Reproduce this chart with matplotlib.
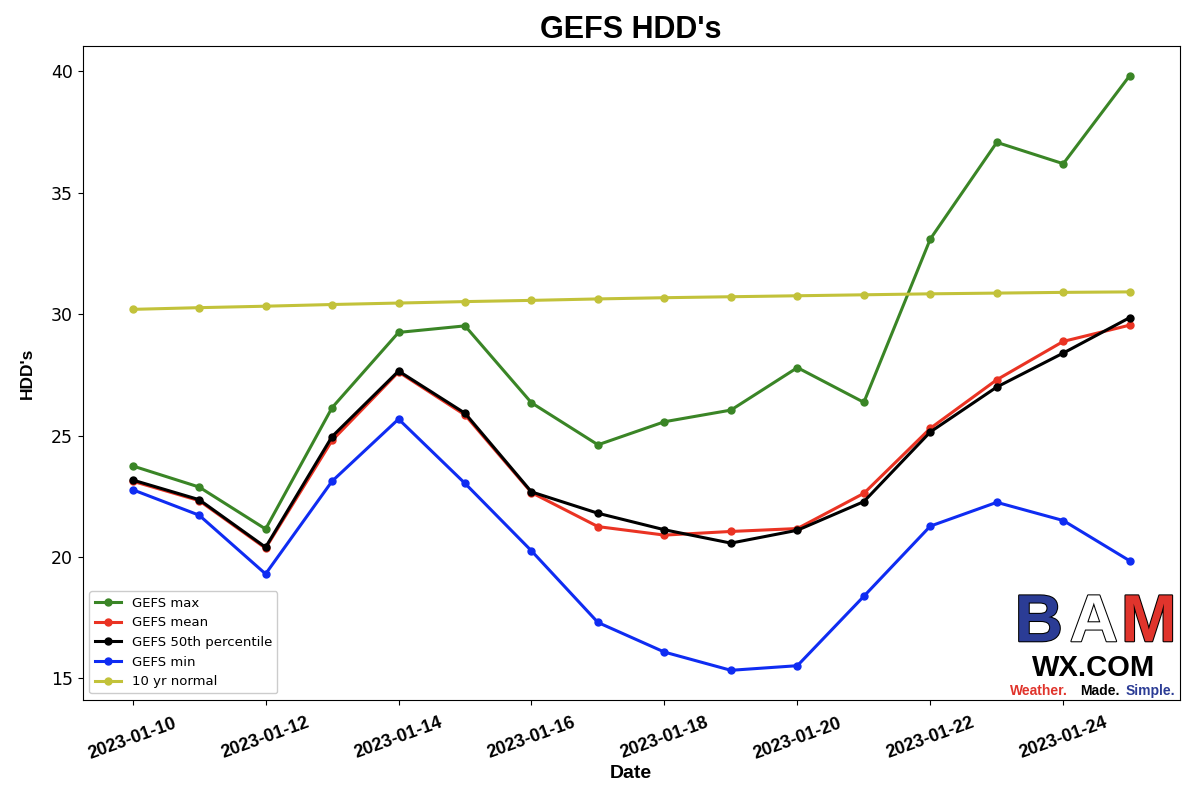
#!/usr/bin/env python3
"""
GEFS HDD's chart
"""

import numpy as np
import pandas as pd
import matplotlib
matplotlib.use("Agg")
import matplotlib.pyplot as plt
import matplotlib.dates as mdates
import matplotlib.patheffects as pe

dates = pd.to_datetime([
    "2023-01-10", "2023-01-11", "2023-01-12", "2023-01-13",
    "2023-01-14", "2023-01-15", "2023-01-16", "2023-01-17",
    "2023-01-18", "2023-01-19", "2023-01-20", "2023-01-21",
    "2023-01-22", "2023-01-23", "2023-01-24", "2023-01-25",
])

gefs_max = [23.75, 22.88, 21.15, 26.15, 29.25, 29.52, 26.35, 24.62,
            25.57, 26.05, 27.8, 26.37, 33.1, 37.08, 36.2, 39.83]
gefs_mean = [23.12, 22.32, 20.36, 24.8, 27.62, 25.85, 22.65, 21.25,
             20.9, 21.05, 21.17, 22.62, 25.3, 27.3, 28.88, 29.55]
gefs_p50 = [23.17, 22.36, 20.4, 24.96, 27.66, 25.92, 22.68, 21.8,
            21.12, 20.57, 21.1, 22.28, 25.15, 27.0, 28.4, 29.86]
gefs_min = [22.77, 21.72, 19.3, 23.12, 25.68, 23.03, 20.25, 17.3,
            16.08, 15.33, 15.52, 18.38, 21.27, 22.25, 21.5, 19.84]
normal_10yr = [30.2, 30.27, 30.33, 30.4, 30.46, 30.52, 30.57, 30.63,
               30.68, 30.72, 30.76, 30.8, 30.84, 30.87, 30.9, 30.92]

series = [
    ("GEFS max", gefs_max, "#3a8526"),
    ("GEFS mean", gefs_mean, "#ea3323"),
    ("GEFS 50th percentile", gefs_p50, "black"),
    ("GEFS min", gefs_min, "#0f2cf2"),
    ("10 yr normal", normal_10yr, "#c2c23a"),
]

BOLD = "Liberation Sans"


def main():
    fig = plt.figure(figsize=(12, 7.91), dpi=100)
    ax = fig.add_axes([0.069, 0.115, 0.914, 0.827])

    for label, vals, color in series:
        ax.plot(dates, vals, color=color, linewidth=2.2, marker="o",
                markersize=5, label=label)

    ax.set_xticks(dates[::2])
    ax.xaxis.set_major_formatter(mdates.DateFormatter("%Y-%m-%d"))
    ax.tick_params(axis="x", pad=7)
    for lbl in ax.get_xticklabels():
        lbl.set_rotation(20)
        lbl.set_fontfamily(BOLD)
        lbl.set_fontweight("bold")
        lbl.set_fontsize(13)
    ax.tick_params(axis="y", labelsize=12.5)

    ax.set_title("GEFS HDD's", fontfamily=BOLD, fontweight="bold",
                 fontsize=22, pad=6)
    ax.set_xlabel("Date", fontfamily=BOLD, fontweight="bold", fontsize=14,
                  labelpad=2)
    ax.set_ylabel("HDD's", fontfamily=BOLD, fontweight="bold", fontsize=12.5,
                  labelpad=12)

    ax.legend(loc="lower left", fontsize=9.5, framealpha=1)

    # logo box (approximation of the BAM WX.COM badge)
    lax = fig.add_axes([0.842, 0.118, 0.139, 0.145])
    lax.set_xlim(0, 1)
    lax.set_ylim(0, 1)
    lax.axis("off")
    lax.add_patch(plt.Rectangle((0, 0), 1, 1, color="white"))
    dark = [pe.withStroke(linewidth=1.5, foreground="black")]
    lax.text(0.17, 0.64, "B", color="#2b3c95", fontsize=48, fontweight="bold",
             fontfamily=BOLD, ha="center", va="center", path_effects=dark)
    lax.text(0.50, 0.64, "A", color="white", fontsize=48, fontweight="bold",
             fontfamily=BOLD, ha="center", va="center", path_effects=dark)
    lax.text(0.83, 0.64, "M", color="#e0342c", fontsize=48, fontweight="bold",
             fontfamily=BOLD, ha="center", va="center", path_effects=dark)
    lax.text(0.5, 0.26, "WX.COM", color="black", fontsize=21,
             fontweight="bold", fontfamily=BOLD, ha="center", va="center")
    lax.text(0.0, 0.06, "Weather.", color="#e0342c", fontsize=10,
             fontweight="bold", fontfamily=BOLD, ha="left", va="center")
    lax.text(0.42, 0.06, "Made.", color="black", fontsize=10,
             fontweight="bold", fontfamily=BOLD, ha="left", va="center")
    lax.text(0.69, 0.06, "Simple.", color="#2b3c95", fontsize=10,
             fontweight="bold", fontfamily=BOLD, ha="left", va="center")

    fig.savefig("out.png", dpi=100)


if __name__ == "__main__":
    main()
